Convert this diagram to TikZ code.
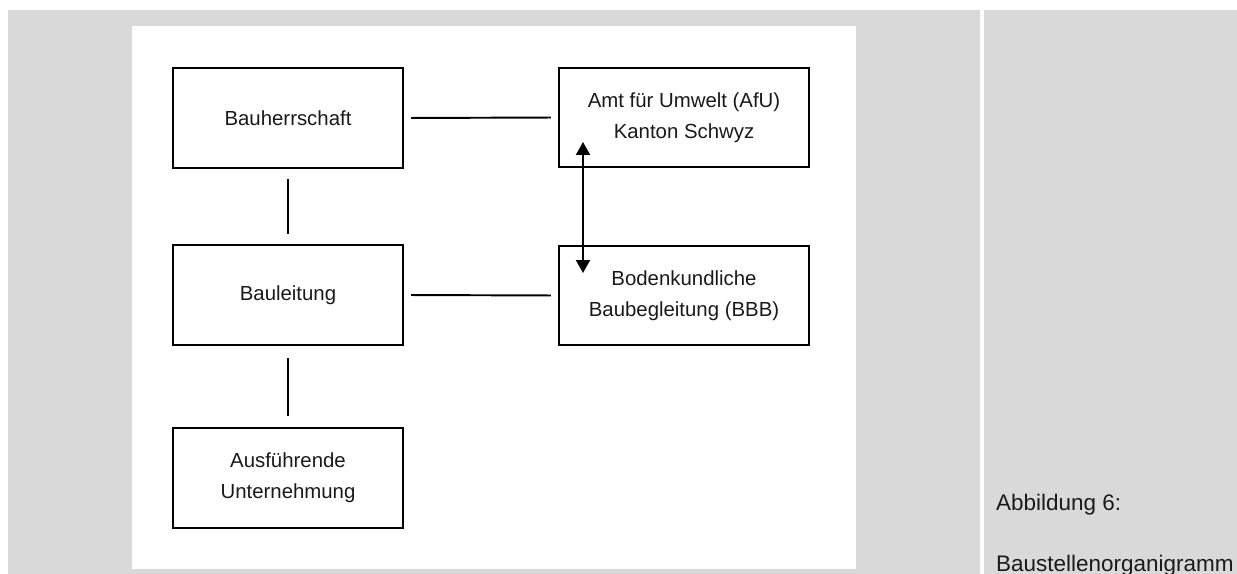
\documentclass[tikz,border=0pt]{standalone}
\usepackage{fontspec}
\setmainfont{Liberation Sans}
\usetikzlibrary{arrows.meta}
\definecolor{pagegray}{HTML}{D9D9D9}
\definecolor{inkgray}{HTML}{1A1A1A}
\begin{document}
\begin{tikzpicture}[x=0.02cm,y=-0.02cm,
                box/.style={draw=black, line width=1.2pt, minimum width=4.6cm, minimum height=2cm,
                  inner sep=0pt, align=center, text=inkgray, font=\fontsize{11.6}{17.6}\selectfont},
                wide box/.style={box, minimum width=5cm, minimum height=1.98cm},
                link/.style={line width=1.1pt, shorten >=0.2cm, shorten <=0.2cm},
                caption/.style={anchor=base west, text=inkgray, font=\fontsize{12.8}{15}\selectfont}]
  \useasboundingbox (0,0) rectangle (1237,574);
  \fill[white] (0,0) rectangle (1237,574);
  \fill[pagegray] (8,10) rectangle (1237,574);
  \fill[white] (132,26) rectangle (856,569);
  \fill[white] (980,10) rectangle (984,574);

  \node[box] (bauherr) at (288,118) {Bauherrschaft};
  \node[box] (bauleit) at (288,295) {Bauleitung};
  \node[box] (ausf) at (288,478) {Ausführende\\Unternehmung};
  \node[wide box] (afu) at (684,117.5) {Amt für Umwelt (AfU)\\Kanton Schwyz};
  \node[wide box] (bbb) at (684,295.5) {Bodenkundliche\\Baubegleitung (BBB)};

  \draw[link] (bauherr) -- (bauleit);
  \draw[link, shorten >=0.22cm, shorten <=0.24cm] (bauleit) -- (ausf);
  \draw[link, shorten >=0.14cm, shorten <=0.14cm] (bauherr.east) -- (afu.west);
  \draw[link, shorten >=0.14cm, shorten <=0.14cm] (bauleit.east) -- (bbb.west);

  \coordinate (afutip) at (583,142);
  \coordinate (bbbtip) at (583,273);
  \draw[line width=1.1pt, {Triangle[width=0.28cm,length=0.26cm]}-{Triangle[width=0.28cm,length=0.26cm]}]
    (afutip) -- (bbbtip);

  \node[caption] (figlabel) at (990,510) {Abbildung 6:};
  \node[caption] (figtitle) at (990,571) {Baustellenorganigramm};
\end{tikzpicture}
\end{document}
